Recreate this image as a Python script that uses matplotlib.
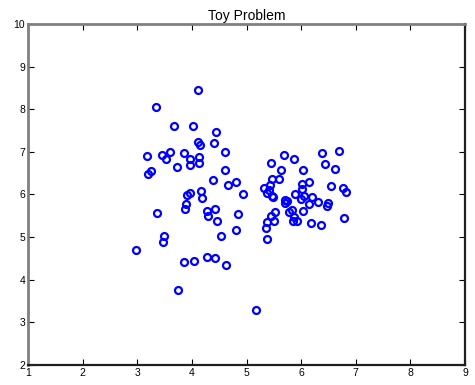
import matplotlib
matplotlib.use("Agg")
import matplotlib.pyplot as plt

x_vals = [4.12, 3.34, 3.67, 4.02, 4.44, 4.11, 4.15, 4.41, 4.61, 3.17,
          3.46, 3.59, 3.53, 3.85, 3.96, 3.96, 4.13, 4.13, 3.73, 3.19,
          3.26, 4.60, 4.39, 4.66, 4.80, 4.94, 3.91, 3.96, 4.16, 4.18,
          3.90, 3.88, 3.36, 4.27, 4.43, 4.30, 4.46, 4.84, 4.80, 4.53,
          3.49, 3.47, 2.98, 3.85, 4.04, 4.27, 4.43, 4.63, 3.74, 5.17,
          5.69, 5.87, 6.39, 6.70, 5.45, 6.43, 5.64, 6.04, 6.62, 5.47,
          5.59, 6.14, 6.01, 5.43, 5.32, 5.42, 5.38, 6.54, 6.76, 6.83,
          6.01, 5.47, 5.49, 5.89, 6.06, 5.99, 6.19, 6.31, 6.49, 6.48,
          6.15, 5.70, 5.74, 5.70, 5.84, 5.78, 6.03, 5.53, 5.44, 5.87,
          5.85, 5.93, 5.50, 5.37, 5.36, 6.18, 6.37, 6.79, 5.38]
y_vals = [8.46, 8.06, 7.61, 7.61, 7.46, 7.24, 7.15, 7.21, 7.00, 6.91,
          6.93, 7.00, 6.82, 6.96, 6.82, 6.70, 6.88, 6.74, 6.64, 6.48,
          6.54, 6.58, 6.34, 6.22, 6.28, 6.01, 5.99, 6.03, 6.07, 5.92,
          5.77, 5.65, 5.56, 5.61, 5.65, 5.49, 5.37, 5.53, 5.16, 5.02,
          5.03, 4.89, 4.70, 4.42, 4.43, 4.53, 4.51, 4.34, 3.76, 3.28,
          6.93, 6.83, 6.98, 7.03, 6.74, 6.72, 6.57, 6.58, 6.60, 6.37,
          6.36, 6.28, 6.24, 6.22, 6.14, 6.11, 6.04, 6.20, 6.16, 6.06,
          6.12, 5.97, 5.94, 6.00, 5.97, 5.90, 5.95, 5.82, 5.81, 5.74,
          5.77, 5.86, 5.85, 5.79, 5.63, 5.59, 5.62, 5.59, 5.50, 5.47,
          5.37, 5.38, 5.37, 5.36, 5.22, 5.33, 5.29, 5.44, 4.96]

x_ticks = [1, 2, 3, 4, 5, 6, 7, 8, 9]
y_ticks = [2, 3, 4, 5, 6, 7, 8, 9, 10]

plt.rcParams['font.family'] = ['Liberation Sans', 'DejaVu Sans']

fig = plt.figure(figsize=(4.75, 3.85), dpi=100)
ax = fig.add_axes([0.059, 0.052, 0.920, 0.886])

ax.plot(x_vals, y_vals, 'o', color='#0000ff', markerfacecolor='none',
        markersize=5, markeredgewidth=1.6)

ax.set_xlim(1, 9)
ax.set_ylim(2, 10)
ax.set_xticks(x_ticks)
ax.set_yticks(y_ticks)
ax.tick_params(direction='in', length=4, width=0.8, labelsize=7.5,
               top=True, right=True, pad=2)
ax.set_title('Toy Problem', fontsize=10, pad=3)

for side in ['top', 'left']:
    ax.spines[side].set_color('#808080')
    ax.spines[side].set_linewidth(2)
for side in ['bottom', 'right']:
    ax.spines[side].set_color('#202020')
    ax.spines[side].set_linewidth(1.6)

fig.savefig('out.png', dpi=100)
